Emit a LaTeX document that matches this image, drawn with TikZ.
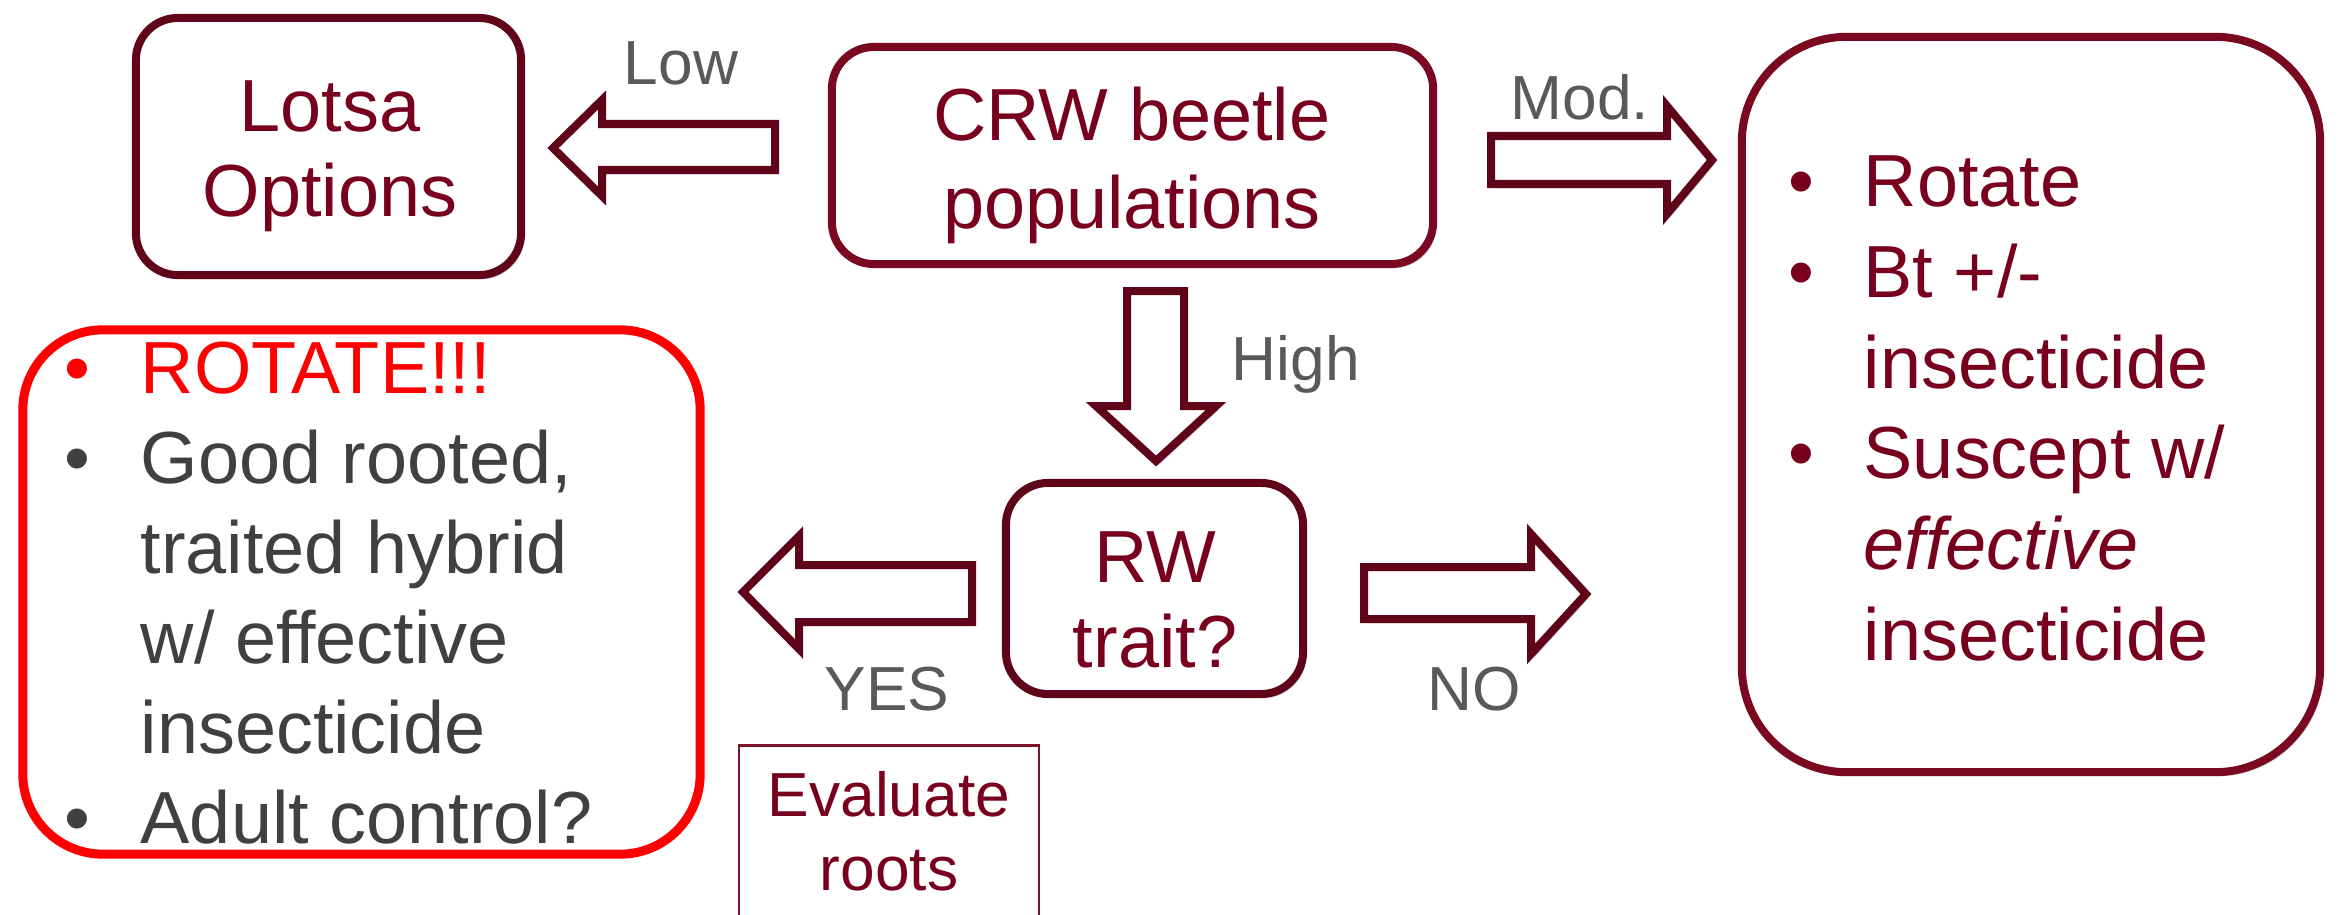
\documentclass[tikz,border=0pt]{standalone}
\usepackage{fontspec}
\setmainfont{Liberation Sans}
\usetikzlibrary{shadows}
\definecolor{crw}{RGB}{122,8,32}
\definecolor{dkm}{RGB}{96,4,26}
\definecolor{txtm}{RGB}{120,0,30}
\definecolor{labgray}{RGB}{89,89,89}
\definecolor{dgray}{RGB}{64,64,64}
\definecolor{evalc}{RGB}{125,20,45}
\begin{document}
\begin{tikzpicture}[x=0.01cm,y=-0.01cm,
  shd/.style={drop shadow={shadow xshift=0.03cm,shadow yshift=-0.04cm,opacity=0.18,fill=black}},
  box/.style={draw,line width=0.08cm,rounded corners=0.42cm,fill=white,inner sep=0pt,outer sep=0pt,shd},
  bigt/.style={font=\fontsize{21}{25}\selectfont,inner sep=0pt,anchor=base},
  listt/.style={font=\fontsize{21}{25}\selectfont,inner sep=0pt,anchor=base west},
  bul/.style={font=\fontsize{21}{25}\selectfont,inner sep=0pt,anchor=base},
  lab/.style={font=\fontsize{17.7}{21}\selectfont,text=labgray,inner sep=0pt,anchor=base},
  barrow/.style={draw=dkm,line width=0.08cm,fill=white,line join=miter,shd}]
\useasboundingbox (0,0) rectangle (2339,915);

% boxes
\node[box,draw=dkm,minimum width=3.85cm,minimum height=2.57cm] (lotsa) at (328.5,146.5) {};
\node[box,draw=crw,minimum width=6.01cm,minimum height=2.17cm] (crwb) at (1132.5,155.5) {};
\node[box,draw=dkm,minimum width=2.97cm,minimum height=2.11cm] (rw) at (1154.5,588.5) {};
\node[box,draw=crw,rounded corners=1.05cm,minimum width=5.78cm,minimum height=7.35cm] (mod) at (2031,404.5) {};
\node[box,draw=red,line width=0.09cm,rounded corners=0.8cm,minimum width=6.77cm,minimum height=5.24cm] (high) at (361.5,592) {};
\node[draw=evalc,line width=0.025cm,inner sep=0pt,minimum width=3.0cm,minimum height=2.0cm,anchor=north] (eval) at (889,744) {};

% block arrows
\draw[barrow] (553,148) -- (602,100) -- (602,124) -- (775,124) -- (775,170) -- (602,170) -- (602,196) -- cycle;
\draw[barrow] (1712,160) -- (1667,106) -- (1667,136) -- (1491,136) -- (1491,184) -- (1667,184) -- (1667,214) -- cycle;
\draw[barrow] (1156,461) -- (1096,406) -- (1127,406) -- (1127,291) -- (1184,291) -- (1184,406) -- (1216,406) -- cycle;
\draw[barrow] (743,592) -- (799,536) -- (799,565) -- (972,565) -- (972,622) -- (799,622) -- (799,649) -- cycle;
\draw[barrow] (1586,594) -- (1531,534) -- (1531,567) -- (1364,567) -- (1364,619) -- (1531,619) -- (1531,654) -- cycle;

% box texts
\node[bigt,text=txtm] (lotsa1) at (330,131) {Lotsa};
\node[bigt,text=txtm] (lotsa2) at (330,216) {Options};
\node[bigt,text=txtm] (crw1) at (1132,140) {CRW beetle};
\node[bigt,text=txtm] (crw2) at (1132,228) {populations};
\node[bigt,text=txtm] (rw1) at (1155,582) {RW};
\node[bigt,text=txtm] (rw2) at (1155,667) {trait?};
\node[lab,text=txtm] (ev1) at (889,816) {Evaluate};
\node[lab,text=txtm] (ev2) at (889,890) {roots};

% labels
\node[lab] (low) at (681,84) {Low};
\node[lab] (modl) at (1580,120) {Mod.};
\node[lab,anchor=base west] (highl) at (1231,380) {High};
\node[lab] (yes) at (887,710) {YES};
\node[lab] (no) at (1474,710) {NO};

% left list
\node[bul,text=red] (lb1) at (77,393) {•};
\node[listt,text=red] (l1) at (140,393) {ROTATE!!!};
\node[bul,text=dgray] (lb2) at (77,483) {•};
\node[listt,text=dgray] (l2) at (140,483) {Good rooted,};
\node[listt,text=dgray] (l3) at (140,573) {traited hybrid};
\node[listt,text=dgray] (l4) at (140,663) {w/ effective};
\node[listt,text=dgray] (l5) at (140,753) {insecticide};
\node[bul,text=dgray] (lb6) at (77,843) {•};
\node[listt,text=dgray] (l6) at (140,843) {Adult control?};

% right list
\node[bul,text=txtm] (rb1) at (1801,206) {•};
\node[listt,text=txtm] (r1) at (1863,206) {Rotate};
\node[bul,text=txtm] (rb2) at (1801,297) {•};
\node[listt,text=txtm] (r2) at (1863,297) {Bt +/-};
\node[listt,text=txtm] (r3) at (1863,388) {insecticide};
\node[bul,text=txtm] (rb4) at (1801,478) {•};
\node[listt,text=txtm] (r4) at (1863,478) {Suscept w/};
\node[listt,text=txtm] (r5) at (1863,569) {\itshape effective};
\node[listt,text=txtm] (r6) at (1863,660) {insecticide};
\end{tikzpicture}
\end{document}
